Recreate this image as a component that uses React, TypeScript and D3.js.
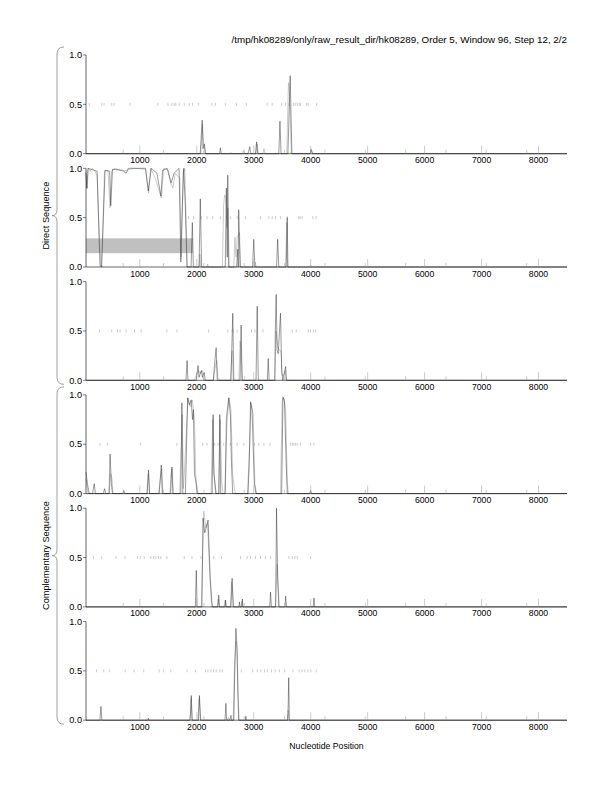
import React from 'react';
import * as d3 from 'd3';

type Pt = [number, number];

// x domain and axis ticks
const xDomain: [number, number] = [55, 8500];
const majorTicks = [1000, 2000, 3000, 4000, 5000, 6000, 7000, 8000];
const minorTicks = [708, 1417, 2125, 2833, 3542, 4250, 4958, 5667, 6375, 7083, 7792];
const yTicks = [0, 0.5, 1];

const title = '/tmp/hk08289/only/raw_result_dir/hk08289, Order 5, Window 96, Step 12, 2/2';

// panel 1
const p1Black: Pt[] = [[55,0],[2060,0],[2095,0.34],[2110,0.05],[2130,0.1],[2150,0],[2400,0],[2415,0.06],[2430,0],[2900,0],[2930,0.07],[2950,0],[3030,0],[3050,0.12],[3070,0],[3440,0],[3460,0.33],[3480,0],[3600,0],[3640,0.79],[3670,0],[3990,0],[4005,0.04],[4030,0],[8500,0]];
const p1Gray: Pt[] = [[55,0],[2070,0],[2100,0.3],[2120,0.1],[2140,0.08],[2160,0],[2580,0],[2600,0.01],[2620,0],[2800,0],[2820,0.03],[2840,0],[3040,0],[3060,0.1],[3080,0],[3160,0],[3180,0.05],[3200,0],[3580,0],[3610,0.72],[3630,0.6],[3660,0],[3990,0],[4010,0.05],[4040,0],[8500,0]];
const p1Stops = [113,331,372,507,548,829,1316,1493,1563,1604,1633,1692,1780,1868,1927,2033,2267,2326,2502,2696,2872,3236,3324,3493,3559,3621,3697,3727,3764,3797,3820,3926,3955,4105];

// panel 2
const p2Black: Pt[] = [[55,0.95],[70,0.8],[90,1.0],[250,0.97],[300,0.02],[330,0],[360,0.5],[390,0.98],[470,0.97],[490,0.62],[520,0.99],[700,0.98],[760,0.95],[800,1.0],[1100,1.0],[1150,0.77],[1200,1.0],[1300,0.95],[1370,0.72],[1400,0.98],[1480,1.0],[1550,0.85],[1600,0.95],[1690,1.0],[1720,0.05],[1740,0.5],[1770,1.0],[1800,0.6],[1830,0],[1900,0],[1922,0.45],[1940,0],[2040,0],[2062,0.69],[2085,0],[2500,0],[2520,0.8],[2535,0.1],[2544,0.93],[2560,0],[2700,0],[2720,0.18],[2728,0],[2736,0.58],[2760,0],[2980,0],[3000,0.28],[3020,0],[3400,0],[3420,0.28],[3440,0],[3570,0],[3588,0.5],[3600,0],[8500,0]];
const p2Gray: Pt[] = [[55,0.98],[75,0.79],[95,1.0],[130,0.97],[160,1.0],[200,0.98],[250,0.93],[290,0.3],[320,0],[345,0.3],[380,0.97],[440,0.98],[478,0.6],[505,0.97],[560,1.0],[700,0.97],[900,1.0],[1100,0.99],[1153,0.75],[1190,1.0],[1270,0.9],[1377,0.7],[1420,1.0],[1500,0.98],[1540,0.85],[1580,0.8],[1620,0.95],[1700,0.9],[1727,0.1],[1760,0.95],[1790,1.0],[1810,0.5],[1828,0],[2040,0],[2055,0.13],[2070,0],[2180,0],[2190,0.03],[2200,0],[2450,0],[2470,0.62],[2490,0.73],[2510,0.7],[2530,0.4],[2550,0.6],[2570,0],[2650,0],[2670,0.3],[2690,0.1],[2710,0.3],[2750,0.35],[2770,0],[3020,0],[3030,0.05],[3040,0],[3560,0],[3580,0.45],[3595,0],[3990,0],[4000,0.02],[4010,0],[8500,0]];
const p2Stops = [1856,1945,2080,2179,2279,2414,2520,2590,2709,2855,3119,3266,3325,3383,3471,3588,3785,3814,3850,4037,4096];
const p2Box = { x: [55, 1930], y: [0.14, 0.29] };

// panel 3
const p3Black: Pt[] = [[55,0],[1810,0],[1830,0.2],[1845,0],[1990,0],[2000,0.05],[2022,0.15],[2040,0.03],[2080,0.1],[2100,0.03],[2130,0.08],[2150,0],[2290,0],[2310,0.15],[2340,0.33],[2360,0],[2600,0],[2632,0.68],[2650,0],[2760,0],[2779,0.56],[2795,0],[3040,0],[3061,0.75],[3080,0],[3240,0],[3254,0.22],[3270,0],[3370,0],[3380,0.55],[3394,0.87],[3410,0.3],[3430,0.27],[3470,0.68],[3490,0.1],[3510,0],[3540,0.08],[3560,0.14],[3575,0],[8500,0]];
const p3Gray: Pt[] = [[55,0],[1960,0],[1990,0.05],[2030,0.1],[2060,0.07],[2100,0.1],[2120,0],[2290,0],[2320,0.12],[2350,0.2],[2370,0.03],[2400,0],[2590,0],[2620,0.3],[2640,0],[2740,0],[2760,0.4],[2780,0.3],[2800,0],[3370,0],[3390,0.5],[3420,0.35],[3450,0.3],[3480,0.3],[3500,0.05],[3530,0.05],[3550,0.1],[3570,0],[8500,0]];
const p3Stops = [291,507,607,654,759,906,1023,1475,1651,2209,2544,2638,2709,2961,3020,3161,3677,3747,3958,3999,4046,4087];

// panel 4
const p4Black: Pt[] = [[55,0.22],[80,0.1],[110,0],[170,0],[200,0.1],[220,0],[360,0],[380,0.05],[400,0],[460,0],[478,0.4],[500,0.1],[520,0],[700,0],[720,0.03],[740,0],[1130,0],[1153,0.24],[1170,0],[1340,0],[1377,0.29],[1395,0],[1540,0],[1563,0.27],[1580,0],[1720,0],[1739,0.92],[1755,0],[1800,0],[1840,0.97],[1870,0.9],[1900,0.95],[1925,0.75],[1940,0.85],[1960,0.2],[1990,0.1],[2010,0],[2270,0],[2287,0.8],[2300,0.2],[2320,0.1],[2340,0],[2390,0],[2404,0.8],[2420,0],[2500,0],[2520,0.77],[2561,0.97],[2590,0.8],[2610,0.3],[2630,0],[2900,0],[2920,0.3],[2944,0.93],[2970,0.85],[3010,0.1],[3040,0],[3490,0],[3513,0.98],[3540,0.93],[3570,0.3],[3590,0],[3980,0],[4000,0.03],[4015,0],[8500,0]];
const p4Gray: Pt[] = [[55,0.15],[90,0],[460,0],[490,0.2],[510,0.15],[530,0],[1120,0],[1150,0.2],[1175,0],[1330,0],[1360,0.15],[1385,0.25],[1405,0],[1530,0],[1545,0.2],[1570,0.25],[1590,0],[1700,0],[1745,0.8],[1765,0.05],[1790,0.3],[1845,0.97],[1880,0.88],[1920,0.95],[1960,0.75],[1980,0.2],[2000,0.05],[2030,0],[2250,0],[2280,0.75],[2300,0.25],[2330,0],[2380,0],[2410,0.75],[2440,0.1],[2460,0],[2490,0],[2530,0.7],[2565,0.97],[2600,0.85],[2630,0.2],[2660,0.05],[2680,0],[2890,0],[2930,0.5],[2950,0.92],[2990,0.8],[3020,0.1],[3050,0],[3470,0],[3500,0.95],[3530,0.97],[3560,0.85],[3590,0.1],[3610,0],[8500,0]];
const p4Stops = [302,430,1017,1651,2103,2179,2314,2373,2473,2590,2709,2826,3014,3090,3178,3283,3647,3677,3706,3735,3764,3823,3999,4058];

// panel 5
const p5Black: Pt[] = [[55,0],[1975,0],[1992,0.37],[2005,0],[2090,0],[2110,0.9],[2140,0.75],[2198,0.88],[2220,0.55],[2235,0.3],[2250,0.18],[2265,0.05],[2280,0],[2370,0],[2386,0.12],[2400,0],[2495,0],[2505,0.07],[2515,0],[2600,0],[2620,0.29],[2640,0],[2740,0],[2750,0.05],[2760,0],[2790,0],[2800,0.08],[2810,0],[3280,0],[3295,0.15],[3310,0],[3385,0],[3400,1.0],[3420,0.3],[3440,0],[3550,0],[3560,0.11],[3575,0],[3990,0],[4000,0.01],[4010,0],[4045,0],[4058,0.09],[4070,0],[8500,0]];
const p5Gray: Pt[] = [[55,0],[2080,0],[2121,0.97],[2160,0.8],[2190,0.85],[2215,0.5],[2240,0.2],[2260,0],[2360,0],[2375,0.08],[2390,0],[2480,0],[2500,0.07],[2520,0],[2590,0],[2610,0.25],[2630,0.15],[2645,0],[2780,0],[2790,0.06],[2800,0],[3380,0],[3410,0.43],[3430,0.2],[3450,0],[8500,0]];
const p5Stops = [184,331,583,741,958,1006,1076,1193,1240,1281,1328,1369,1475,1780,1915,2074,2297,2432,2767,2884,2943,3031,3119,3207,3295,3618,3677,3724,3764,3999];

// panel 6
const p6Black: Pt[] = [[55,0],[300,0],[317,0.14],[335,0],[1140,0],[1150,0.02],[1160,0],[1880,0],[1895,0.1],[1903,0.25],[1920,0],[2030,0],[2047,0.25],[2065,0],[2495,0],[2511,0.17],[2525,0],[2580,0],[2600,0.05],[2610,0],[2650,0],[2670,0.6],[2687,0.93],[2705,0.75],[2720,0.3],[2735,0],[2855,0],[2862,0.04],[2870,0],[3595,0],[3605,0.15],[3614,0.43],[3625,0],[8500,0]];
const p6Gray: Pt[] = [[55,0],[1880,0],[1900,0.22],[1915,0],[2020,0],[2040,0.22],[2060,0.1],[2070,0],[2540,0],[2555,0.03],[2570,0],[2640,0],[2660,0.5],[2690,0.8],[2710,0.7],[2730,0.2],[2745,0],[3590,0],[3605,0.1],[3620,0],[8500,0]];
const p6Stops = [241,367,473,743,900,1069,1339,1420,1545,1828,1978,2154,2197,2248,2292,2342,2404,2448,2781,2981,3063,3125,3188,3238,3313,3376,3451,3545,3690,3796,3846,3897,3953,4003,4097];

const panels = [
  { black: p1Black, gray: p1Gray, stops: p1Stops },
  { black: p2Black, gray: p2Gray, stops: p2Stops, box: p2Box },
  { black: p3Black, gray: p3Gray, stops: p3Stops },
  { black: p4Black, gray: p4Gray, stops: p4Stops },
  { black: p5Black, gray: p5Gray, stops: p5Stops },
  { black: p6Black, gray: p6Gray, stops: p6Stops },
];

const groups = [
  { label: 'Direct Sequence', from: 0, to: 2 },
  { label: 'Complementary Sequence', from: 3, to: 5 },
];

const W = 612;
const H = 792;
const left = 86;
const right = 567;
const firstTop = 55;
const step = 113.3;
const panelH = 98.7;
const font = '"Liberation Sans", Arial, Helvetica, sans-serif';

const x = d3.scaleLinear().domain(xDomain).range([left, right]);

function bracePath(y0: number, y1: number) {
  const xs = 57, xe = 64, xt = 52;
  const m = (y0 + y1) / 2;
  return `M${xe},${y0} Q${xs},${y0} ${xs},${y0 + 7} L${xs},${m - 6} Q${xs},${m} ${xt},${m} Q${xs},${m} ${xs},${m + 6} L${xs},${y1 - 7} Q${xs},${y1} ${xe},${y1}`;
}

const Panel: React.FC<{ idx: number }> = ({ idx }) => {
  const p = panels[idx] as any;
  const top = firstTop + idx * step;
  const bottom = top + panelH;
  const y = d3.scaleLinear().domain([0, 1]).range([bottom, top]);
  const line = d3.line<Pt>().x(d => x(d[0])).y(d => y(d[1]));
  return (
    <g>
      {p.box && (
        <rect x={x(p.box.x[0])} y={y(p.box.y[1])} width={x(p.box.x[1]) - x(p.box.x[0])}
          height={y(p.box.y[0]) - y(p.box.y[1])} fill="#c0c0c0" />
      )}
      {p.stops.map((s: number, i: number) => (
        <line key={i} x1={x(s)} x2={x(s)} y1={y(0.5) - 1.5} y2={y(0.5) + 1.5} stroke="#999" strokeWidth={0.5} />
      ))}
      <path d={line(p.gray) || ''} fill="none" stroke="#a8a8a8" strokeWidth={0.6} />
      <path d={line(p.black) || ''} fill="none" stroke="#222" strokeWidth={0.45} />
      {/* axes */}
      <line x1={left} x2={left} y1={top} y2={bottom} stroke="#000" strokeWidth={0.6} />
      <line x1={left} x2={right} y1={bottom} y2={bottom} stroke="#000" strokeWidth={0.6} />
      {yTicks.map(t => (
        <g key={t}>
          <line x1={left - 3} x2={left} y1={y(t)} y2={y(t)} stroke="#000" strokeWidth={0.5} />
          <text x={left - 4} y={y(t) + 3.2} textAnchor="end" fontSize={9.2} fontFamily={font}>{t.toFixed(1)}</text>
        </g>
      ))}
      {majorTicks.map(t => (
        <g key={t}>
          <line x1={x(t)} x2={x(t)} y1={bottom} y2={bottom - 8} stroke="#999" strokeWidth={0.5} />
          <text x={x(t)} y={bottom + 9.5} textAnchor="middle" fontSize={8.7} fontFamily={font}>{t}</text>
        </g>
      ))}
      {minorTicks.map(t => (
        <line key={t} x1={x(t)} x2={x(t)} y1={bottom} y2={bottom - 4} stroke="#999" strokeWidth={0.5} />
      ))}
    </g>
  );
};

export default function App() {
  return (
    <svg width={W} height={H} style={{ position: 'absolute', left: 0, top: 0, background: '#fff' }}>
      <rect width={W} height={H} fill="#fff" />
      <text x={right} y={43} textAnchor="end" fontSize={9.8} fontFamily={font}>{title}</text>
      {panels.map((_, i) => <Panel key={i} idx={i} />)}
      {groups.map(g => {
        const y0 = firstTop + g.from * step - 8;
        const y1 = firstTop + g.to * step + panelH + 4;
        const m = (y0 + y1) / 2;
        return (
          <g key={g.label}>
            <path d={bracePath(y0, y1)} fill="none" stroke="#888" strokeWidth={0.8} />
            <text transform={`translate(49,${m}) rotate(-90)`} textAnchor="middle" fontSize={9.2} fontFamily={font}>{g.label}</text>
          </g>
        );
      })}
      <text x={(left + right) / 2} y={749} textAnchor="middle" fontSize={8.7} fontFamily={font}>Nucleotide Position</text>
    </svg>
  );
}
